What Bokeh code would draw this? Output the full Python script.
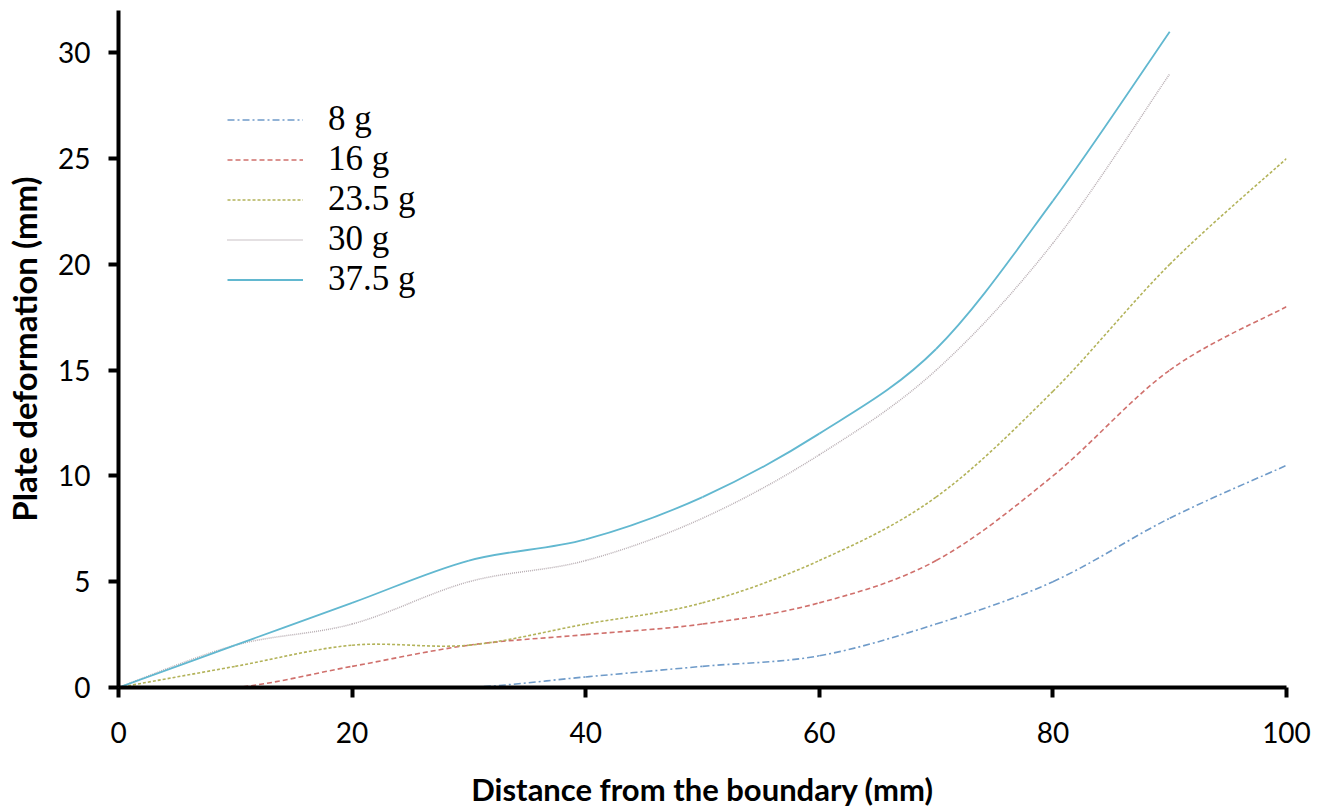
import numpy as np
from bokeh.plotting import figure
from bokeh.models import Range1d, Legend, LegendItem, FixedTicker
from bokeh.embed import file_html
from bokeh.resources import INLINE

# ---- data ----
distance = [0, 10, 20, 30, 40, 50, 60, 70, 80, 90, 100]
def_8g = [0, 0, 0, 0, 0.5, 1, 1.5, 3, 5, 8, 10.5]
def_16g = [0, 0, 1, 2, 2.5, 3, 4, 6, 10, 15, 18]
def_23_5g = [0, 1, 2, 2, 3, 4, 6, 9, 14, 20, 25]
def_30g = [0, 2, 3, 5, 6, 8, 11, 15, 21, 29]
def_37_5g = [0, 2, 4, 6, 7, 9, 12, 16, 23, 31]
series_labels = ["8 g", "16 g", "23.5 g", "30 g", "37.5 g"]
x_ticks = [0, 20, 40, 60, 80, 100]
y_ticks = [0, 5, 10, 15, 20, 25, 30]
x_title = "Distance from the boundary (mm)"
y_title = "Plate deformation (mm)"

series = [def_8g, def_16g, def_23_5g, def_30g, def_37_5g]
colors = ["#6f9bc9", "#d0706c", "#b3b35a", "#b8aeb3", "#62b8d0"]
dashes = ["7 3 2 3", "5 3", "3 2", "1 1", "solid"]
widths = [1.6, 1.6, 1.6, 1.5, 1.8]


def smooth_segments(xs, ys):
    """Cardinal (Excel-like) smoothing: Bezier control points from the data."""
    xs = np.asarray(xs, float)
    ys = np.asarray(ys, float)
    n = len(xs)
    xp = np.concatenate([[xs[0]], xs, [xs[-1]]])
    yp = np.concatenate([[ys[0]], ys, [ys[-1]]])
    x0, y0 = xs[:-1], ys[:-1]
    x1, y1 = xs[1:], ys[1:]
    cx0 = xp[1:n] + (xp[2:n + 1] - xp[0:n - 1]) / 6
    cy0 = yp[1:n] + (yp[2:n + 1] - yp[0:n - 1]) / 6
    cx1 = xp[2:n + 1] - (xp[3:n + 2] - xp[1:n]) / 6
    cy1 = yp[2:n + 1] - (yp[3:n + 2] - yp[1:n]) / 6
    return dict(x0=x0, y0=y0, x1=x1, y1=y1, cx0=cx0, cy0=cy0, cx1=cx1, cy1=cy1)


p = figure(width=1312, height=810, output_backend="svg", toolbar_location=None,
           x_range=Range1d(0, 100), y_range=Range1d(0, 32),
           min_border_left=118, min_border_right=26, min_border_top=10,
           min_border_bottom=122)
p.outline_line_color = None
p.xgrid.visible = False
p.ygrid.visible = False
p.background_fill_color = "white"
p.border_fill_color = "white"

items = []
for ys, lab, c, d, w in zip(series, series_labels, colors, dashes, widths):
    seg = smooth_segments(distance[:len(ys)], ys)
    r = p.bezier(x0=seg["x0"], y0=seg["y0"], x1=seg["x1"], y1=seg["y1"],
                 cx0=seg["cx0"], cy0=seg["cy0"], cx1=seg["cx1"], cy1=seg["cy1"],
                 line_color=c, line_width=w, line_dash=d)
    items.append(LegendItem(label=lab, renderers=[r]))

for ax in (p.xaxis[0], p.yaxis[0]):
    ax.axis_line_width = 4
    ax.axis_line_color = "black"
    ax.major_tick_line_width = 4
    ax.major_tick_line_color = "black"
    ax.major_tick_out = 10
    ax.major_tick_in = 0
    ax.minor_tick_line_color = None
    ax.major_label_text_font = "Lato"
    ax.major_label_text_font_size = "28px"
    ax.major_label_text_color = "black"
    ax.axis_label_text_font = "Lato"
    ax.axis_label_text_font_style = "bold"
    ax.axis_label_text_color = "black"

p.xaxis.ticker = FixedTicker(ticks=x_ticks)
p.yaxis.ticker = FixedTicker(ticks=y_ticks)
p.xaxis.axis_label = x_title
p.yaxis.axis_label = y_title
p.xaxis.axis_label_text_font_size = "31px"
p.yaxis.axis_label_text_font_size = "33px"
p.xaxis.major_label_standoff = 24
p.yaxis.major_label_standoff = 18
p.xaxis.axis_label_standoff = 24
p.yaxis.axis_label_standoff = 11

legend = Legend(items=items, location=(109, 388), orientation="vertical",
                border_line_color=None, background_fill_alpha=0,
                padding=0, margin=0, spacing=0,
                glyph_width=76, glyph_height=39, label_height=39,
                label_standoff=25,
                label_text_font="Liberation Serif", label_text_font_size="35px",
                label_text_color="black")
p.add_layout(legend, "center")

open("out.html", "w").write(file_html(p, INLINE))
